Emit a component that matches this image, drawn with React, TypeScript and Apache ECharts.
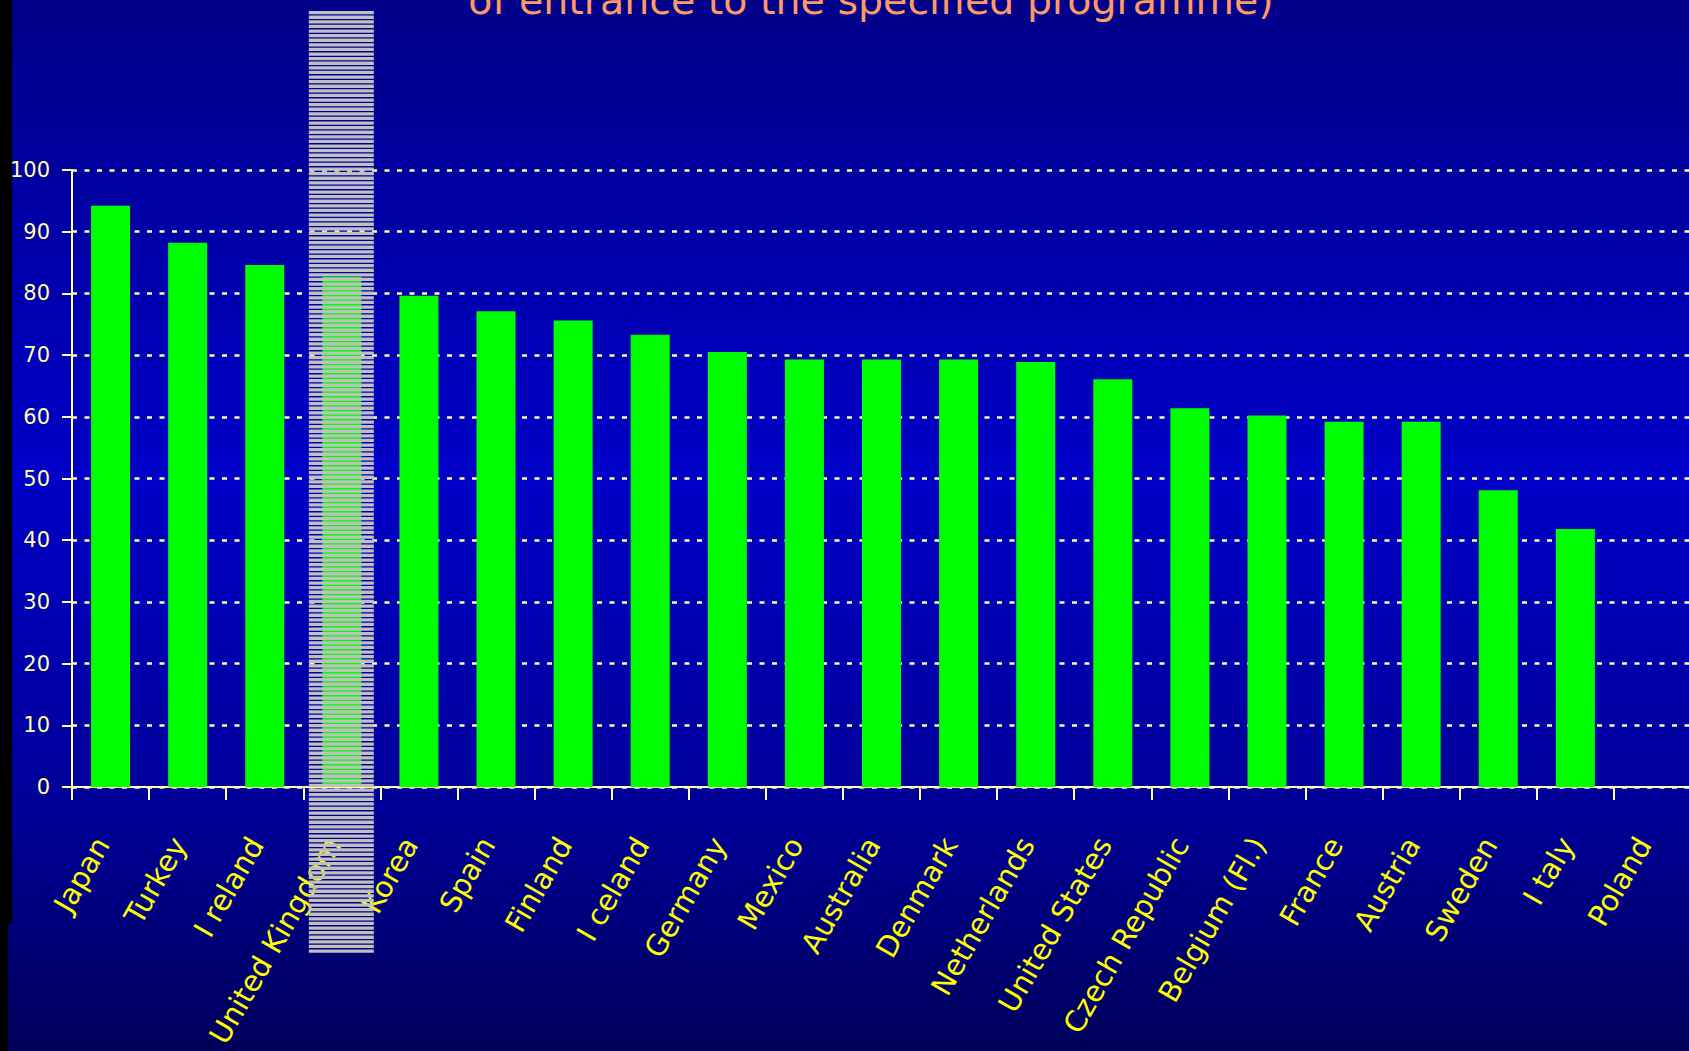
import React, { useEffect, useRef } from "react";
import * as echarts from "echarts";

const categories = [
  "Japan", "Turkey", "I reland", "United Kingdom", "Korea", "Spain", "Finland",
  "I celand", "Germany", "Mexico", "Australia", "Denmark", "Netherlands",
  "United States", "Czech Republic", "Belgium (Fl.)", "France", "Austria",
  "Sweden", "I taly", "Poland",
];
const values = [
  94.2, 88.2, 84.6, 82.7, 79.6, 77.1, 75.6, 73.3, 70.5, 69.3, 69.3, 69.3, 68.9,
  66.1, 61.4, 60.2, 59.2, 59.2, 48.1, 41.8, null,
];
const yMin = 0;
const yMax = 100;
const yInterval = 10;
const titleLine = "of entrance to the specified programme)";
const highlighted = "United Kingdom";

const W = 1689;
const H = 1051;

export default function App() {
  const ref = useRef<HTMLDivElement>(null);
  useEffect(() => {
    if (!ref.current) return;
    const chart = echarts.init(ref.current, null, { renderer: "svg", width: W, height: H });
    const pale = "#FFFFB0";
    const option: any = {
      animation: false,
      backgroundColor: {
        type: "linear", x: 0, y: 0, x2: 0, y2: 1,
        colorStops: [
          { offset: 0, color: "#000088" },
          { offset: 0.45, color: "#0000C8" },
          { offset: 0.78, color: "#000096" },
          { offset: 1, color: "#00005A" },
        ],
      },
      grid: {
        left: 72, right: -2, top: 170, bottom: 264,
        containLabel: false, outerBoundsMode: "none",
      },
      xAxis: {
        type: "category",
        data: categories,
        boundaryGap: true,
        axisLine: { show: true, lineStyle: { color: pale, width: 2 } },
        axisTick: { show: true, length: 13, alignWithLabel: false, lineStyle: { color: pale, width: 2 } },
        axisLabel: {
          interval: 0, rotate: 60, margin: 38, color: "#FFFF00",
          fontFamily: "DejaVu Sans", fontSize: 29,
          padding: [0, 17, 0, 0],
        },
        splitLine: { show: false },
      },
      yAxis: {
        type: "value", min: yMin, max: yMax, interval: yInterval,
        axisLine: { show: true, lineStyle: { color: pale, width: 2 } },
        axisTick: { show: true, length: 10, lineStyle: { color: pale, width: 2 } },
        axisLabel: { color: "#FFFFA8", fontSize: 21, margin: 22, fontFamily: "DejaVu Sans" },
        splitLine: { show: true, lineStyle: { color: pale, type: [5, 7.5], width: 2.5 } },
      },
      series: [
        {
          type: "bar", data: values, barWidth: 39,
          itemStyle: { color: "#00FF00" },
        },
      ],
    };
    chart.setOption(option);

    const cx = chart.convertToPixel({ xAxisIndex: 0 }, highlighted) as number;
    const hx = cx - 33;
    const hw = 65;
    const hTop = 11;
    const hBottom = 954;
    const stripes: any[] = [];
    for (let y = hTop; y < hBottom; y += 4.6) {
      stripes.push({
        type: "rect",
        z: 100,
        shape: { x: hx, y, width: hw, height: Math.min(3.3, hBottom - y) },
        style: { fill: "#C0C0C0" },
        silent: true,
      });
    }
    chart.setOption({
      graphic: [
        { type: "rect", z: 100, shape: { x: 0, y: 0, width: 12, height: 924 }, style: { fill: "#000000" } },
        { type: "rect", z: 100, shape: { x: 0, y: 924, width: 8, height: 127 }, style: { fill: "#000000" } },
        {
          type: "text", z: 100, x: 871, y: 0,
          style: {
            text: titleLine, fill: "#FF9966", fontSize: 39.5, fontFamily: "DejaVu Sans",
            align: "center", verticalAlign: "middle",
          },
        },
        ...stripes,
      ],
    });
    return () => chart.dispose();
  }, []);
  return <div ref={ref} style={{ position: "absolute", left: 0, top: 0, width: W, height: H }} />;
}
